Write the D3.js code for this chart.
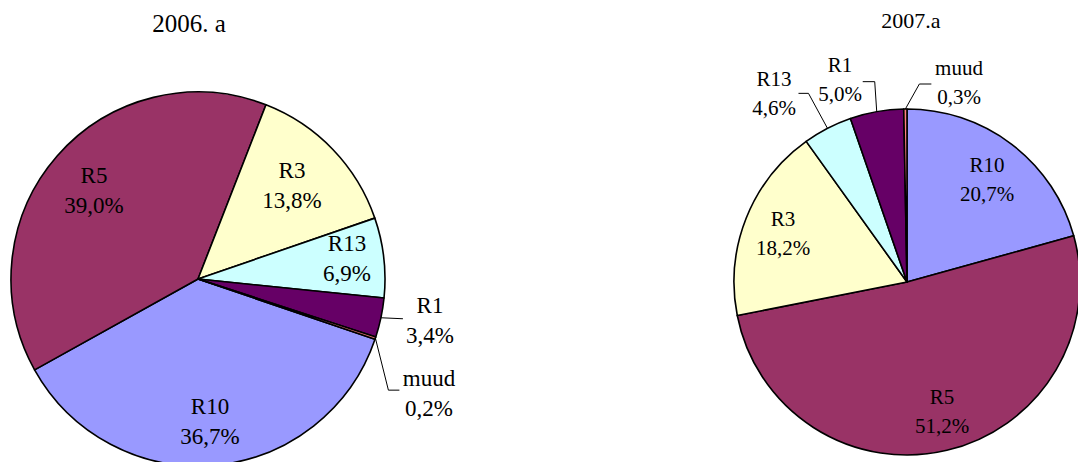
<!DOCTYPE html>
<html>
<head>
<meta charset="utf-8">
<script src="https://cdn.jsdelivr.net/npm/d3@7"></script>
<style>
  html, body { margin: 0; padding: 0; background: #fff; }
  svg { display: block; }
</style>
</head>
<body>
<div id="chart"></div>
<script>
// data
const categories = ["R10", "R5", "R3", "R13", "R1", "muud"];
const values2006 = [36.7, 39.0, 13.8, 6.9, 3.4, 0.2];
const values2007 = [20.7, 51.2, 18.2, 4.6, 5.0, 0.3];
const titles = ["2006. a", "2007.a"];

// style
const COLORS = ["#9999FF", "#993366", "#FFFFCC", "#CCFFFF", "#660066", "#FF8080"];
const FONT = "'Liberation Serif', 'Times New Roman', 'DejaVu Serif', serif";
const W = 1078, H = 462;

// layout for each pie: center, radius, start angle, label offsets (relative to center)
const PIES = [
  {
    values: values2006, title: titles[0],
    cx: 198, cy: 279, r: 187, start: 108.8, font: 23, lineH: 30,
    titlePos: [189, 32], titleFont: 25,
    labels: [[12, 135], [-104, -96], [94, -101], [149, -28], [232, 34], [231, 107]],
    leaders: [null, null, null, null,
      [[22, 1]],
      [[13, 52], [24, 52]]]
  },
  {
    values: values2007, title: titles[1],
    cx: 907, cy: 282, r: 173, start: 0, font: 21, lineH: 29,
    titlePos: [911, 28], titleFont: 22,
    labels: [[80, -110], [35, 122], [-124, -56], [-133, -196], [-67, -210], [52, -207]],
    leaders: [null, null, null,
      [[-19, -35], [-29, -35]],
      [[-2, -30], [-14, -30]],
      [[14, -25], [26, -25]]]
  }
];

const svg = d3.select("#chart").append("svg")
  .attr("width", W)
  .attr("height", H)
  .attr("font-family", FONT);

function fmt(v) {
  return d3.format(".1f")(v).replace(".", ",") + "%";
}

PIES.forEach((p) => {
  const pie = d3.pie()
    .sort(null)
    .value((d) => d)
    .startAngle(p.start * Math.PI / 180)
    .endAngle(p.start * Math.PI / 180 + 2 * Math.PI);
  const arcs = pie(p.values);
  const arc = d3.arc().innerRadius(0).outerRadius(p.r);

  const g = svg.append("g").attr("transform", `translate(${p.cx},${p.cy})`);

  g.selectAll("path.slice")
    .data(arcs)
    .join("path")
    .attr("class", "slice")
    .attr("d", arc)
    .attr("fill", (d, i) => COLORS[i])
    .attr("stroke", "#000")
    .attr("stroke-width", 1.6)
    .attr("stroke-linejoin", "round");

  // leader lines from slice edge
  arcs.forEach((d, i) => {
    const lead = p.leaders[i];
    if (!lead) return;
    const a = (d.startAngle + d.endAngle) / 2;
    const x0 = Math.sin(a) * p.r, y0 = -Math.cos(a) * p.r;
    const pts = [[x0, y0]].concat(lead.map(([dx, dy]) => [x0 + dx, y0 + dy]));
    g.append("path")
      .attr("d", d3.line()(pts))
      .attr("fill", "none")
      .attr("stroke", "#000")
      .attr("stroke-width", 1);
  });

  // labels
  const lbl = g.selectAll("text.lbl")
    .data(arcs)
    .join("text")
    .attr("class", "lbl")
    .attr("text-anchor", "middle")
    .attr("font-family", FONT)
    .attr("font-size", p.font)
    .attr("fill", "#000")
    .attr("transform", (d, i) => `translate(${p.labels[i][0]},${p.labels[i][1]})`);
  lbl.append("tspan").attr("x", 0).attr("y", 0).text((d, i) => categories[i]);
  lbl.append("tspan").attr("x", 0).attr("y", p.lineH).text((d) => fmt(d.value));

  svg.append("text")
    .attr("x", p.titlePos[0])
    .attr("y", p.titlePos[1])
    .attr("text-anchor", "middle")
    .attr("font-family", FONT)
    .attr("font-size", p.titleFont)
    .attr("fill", "#000")
    .text(p.title);
});
</script>
</body>
</html>
